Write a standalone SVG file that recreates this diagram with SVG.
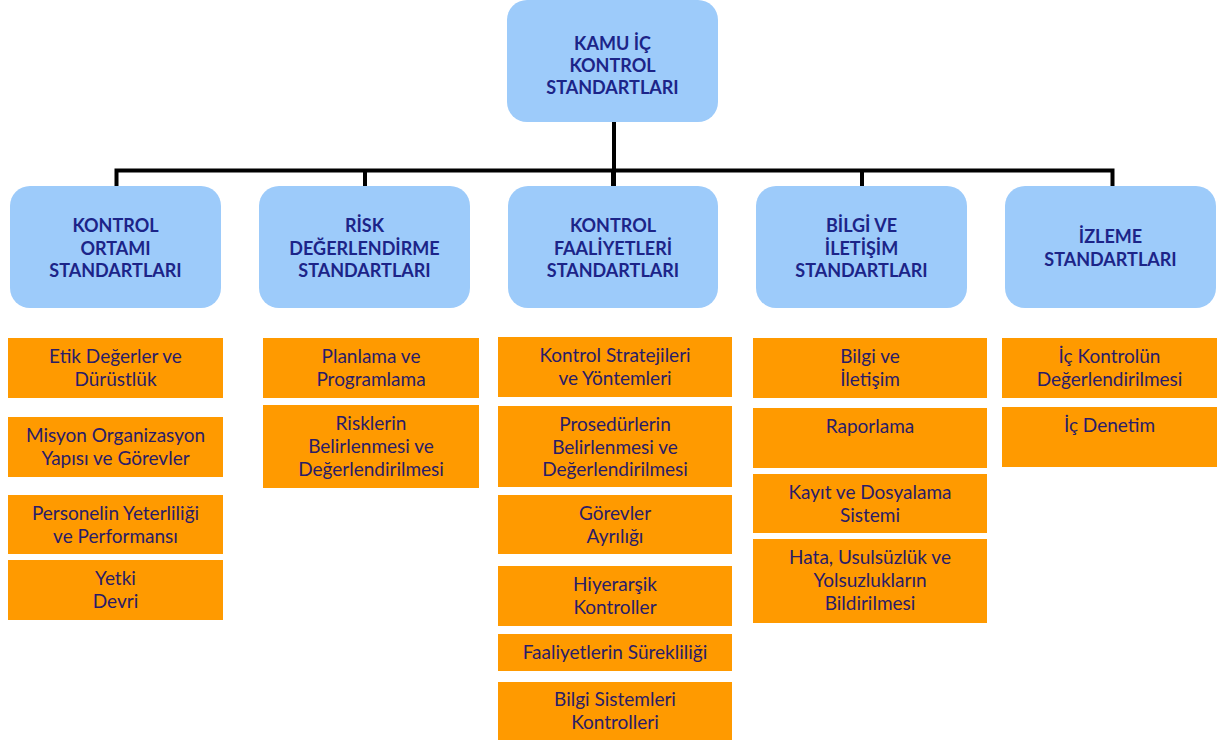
<svg xmlns="http://www.w3.org/2000/svg" width="1219" height="744" viewBox="0 0 1219 744">
<style>
.hb{fill:#9DCBFA;}
.ht{font-family:Lato,"Liberation Sans",sans-serif;font-weight:bold;font-size:18px;fill:#1C2488;text-anchor:middle;}
.ob{fill:#FF9A00;}
.ot{font-family:Lato,"Liberation Sans",sans-serif;font-size:19px;fill:#2A1C68;text-anchor:middle;}
.ln{stroke:#000;stroke-width:4;fill:none;}
</style>
<rect width="1219" height="744" fill="#fff"/>
<g id="connectors">
<path class="ln" d="M614,122 V186"/>
<path class="ln" d="M116.5,186 V170.5 H1112.5 V186"/>
<path class="ln" d="M365,170.5 V186 M613,170.5 V186 M862,170.5 V186"/>
</g>
<g id="root">
<rect class="hb" x="507" y="0" width="211" height="122" rx="20"/>
<text class="ht" x="612.5" y="50">KAMU İÇ</text>
<text class="ht" x="612.5" y="72">KONTROL</text>
<text class="ht" x="612.5" y="94">STANDARTLARI</text>
</g>
<g id="kontrol-ortami">
<rect class="hb" x="10" y="186" width="211" height="122" rx="20"/>
<text class="ht" x="115.5" y="232">KONTROL</text>
<text class="ht" x="115.5" y="254.5">ORTAMI</text>
<text class="ht" x="115.5" y="277">STANDARTLARI</text>
</g>
<g id="risk-degerlendirme">
<rect class="hb" x="259" y="186" width="211" height="122" rx="20"/>
<text class="ht" x="364.5" y="232">RİSK</text>
<text class="ht" x="364.5" y="254.5">DEĞERLENDİRME</text>
<text class="ht" x="364.5" y="277">STANDARTLARI</text>
</g>
<g id="kontrol-faaliyetleri">
<rect class="hb" x="508" y="186" width="210" height="122" rx="20"/>
<text class="ht" x="613" y="232">KONTROL</text>
<text class="ht" x="613" y="254.5">FAALİYETLERİ</text>
<text class="ht" x="613" y="277">STANDARTLARI</text>
</g>
<g id="bilgi-iletisim">
<rect class="hb" x="756" y="186" width="211" height="122" rx="20"/>
<text class="ht" x="861.5" y="232">BİLGİ VE</text>
<text class="ht" x="861.5" y="254.5">İLETİŞİM</text>
<text class="ht" x="861.5" y="277">STANDARTLARI</text>
</g>
<g id="izleme">
<rect class="hb" x="1005" y="186" width="211" height="122" rx="20"/>
<text class="ht" x="1110.5" y="243">İZLEME</text>
<text class="ht" x="1110.5" y="266">STANDARTLARI</text>
</g>
<g id="etik">
<rect class="ob" x="8" y="338" width="215" height="60"/>
<text class="ot" x="115.5" y="363">Etik Değerler ve</text>
<text class="ot" x="115.5" y="386">Dürüstlük</text>
</g>
<g id="misyon">
<rect class="ob" x="8" y="417" width="215" height="60"/>
<text class="ot" x="115.5" y="442">Misyon Organizasyon</text>
<text class="ot" x="115.5" y="465">Yapısı ve Görevler</text>
</g>
<g id="personel">
<rect class="ob" x="8" y="495" width="215" height="59"/>
<text class="ot" x="115.5" y="520">Personelin Yeterliliği</text>
<text class="ot" x="115.5" y="543">ve Performansı</text>
</g>
<g id="yetki">
<rect class="ob" x="8" y="560" width="215" height="60"/>
<text class="ot" x="115.5" y="585">Yetki</text>
<text class="ot" x="115.5" y="608">Devri</text>
</g>
<g id="planlama">
<rect class="ob" x="263" y="338" width="216" height="60"/>
<text class="ot" x="371" y="363">Planlama ve</text>
<text class="ot" x="371" y="386">Programlama</text>
</g>
<g id="riskler">
<rect class="ob" x="263" y="405" width="216" height="83"/>
<text class="ot" x="371" y="430">Risklerin</text>
<text class="ot" x="371" y="453">Belirlenmesi ve</text>
<text class="ot" x="371" y="476">Değerlendirilmesi</text>
</g>
<g id="kontrol-stratejileri">
<rect class="ob" x="498" y="337" width="234" height="60"/>
<text class="ot" x="615" y="362">Kontrol Stratejileri</text>
<text class="ot" x="615" y="385">ve Yöntemleri</text>
</g>
<g id="prosedurler">
<rect class="ob" x="498" y="406" width="234" height="81"/>
<text class="ot" x="615" y="431">Prosedürlerin</text>
<text class="ot" x="615" y="453.5">Belirlenmesi ve</text>
<text class="ot" x="615" y="476">Değerlendirilmesi</text>
</g>
<g id="gorevler-ayriligi">
<rect class="ob" x="498" y="495" width="234" height="59"/>
<text class="ot" x="615" y="520">Görevler</text>
<text class="ot" x="615" y="543">Ayrılığı</text>
</g>
<g id="hiyerarsik">
<rect class="ob" x="498" y="566" width="234" height="60"/>
<text class="ot" x="615" y="591">Hiyerarşik</text>
<text class="ot" x="615" y="614">Kontroller</text>
</g>
<g id="sureklilik">
<rect class="ob" x="498" y="634" width="234" height="37"/>
<text class="ot" x="615" y="659">Faaliyetlerin Sürekliliği</text>
</g>
<g id="bilgi-sistemleri">
<rect class="ob" x="498" y="682" width="234" height="58"/>
<text class="ot" x="615" y="706">Bilgi Sistemleri</text>
<text class="ot" x="615" y="729">Kontrolleri</text>
</g>
<g id="bilgi-ve-iletisim">
<rect class="ob" x="753" y="338" width="234" height="60"/>
<text class="ot" x="870" y="363">Bilgi ve</text>
<text class="ot" x="870" y="386">İletişim</text>
</g>
<g id="raporlama">
<rect class="ob" x="753" y="408" width="234" height="60"/>
<text class="ot" x="870" y="433">Raporlama</text>
</g>
<g id="kayit">
<rect class="ob" x="753" y="474" width="234" height="59"/>
<text class="ot" x="870" y="499">Kayıt ve Dosyalama</text>
<text class="ot" x="870" y="522">Sistemi</text>
</g>
<g id="hata">
<rect class="ob" x="753" y="539" width="234" height="84"/>
<text class="ot" x="870" y="564">Hata, Usulsüzlük ve</text>
<text class="ot" x="870" y="587">Yolsuzlukların</text>
<text class="ot" x="870" y="610">Bildirilmesi</text>
</g>
<g id="ic-kontrolun">
<rect class="ob" x="1002" y="338" width="215" height="60"/>
<text class="ot" x="1109.5" y="363">İç Kontrolün</text>
<text class="ot" x="1109.5" y="386">Değerlendirilmesi</text>
</g>
<g id="ic-denetim">
<rect class="ob" x="1002" y="407" width="215" height="60"/>
<text class="ot" x="1109.5" y="432">İç Denetim</text>
</g>
</svg>
